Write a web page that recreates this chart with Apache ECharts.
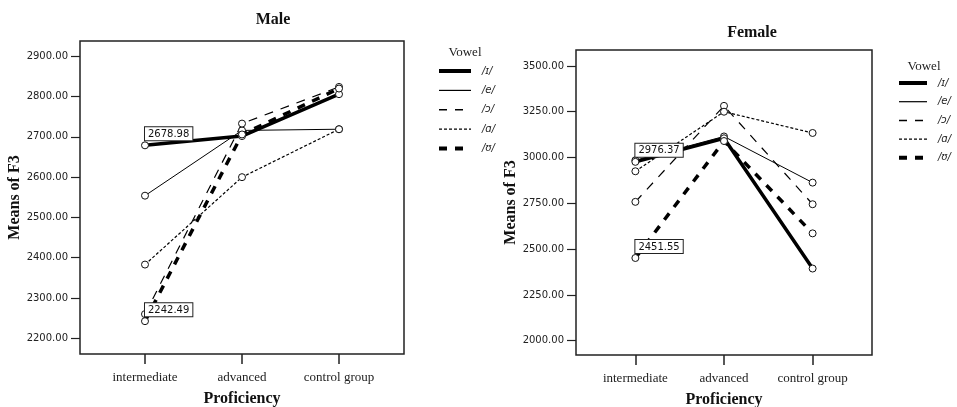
<!DOCTYPE html>
<html>
<head>
<meta charset="utf-8">
<script src="https://cdn.jsdelivr.net/npm/echarts@6/dist/echarts.min.js"></script>
<style>html,body{margin:0;padding:0;background:#fff;}#c{width:957px;height:407px;}</style>
</head>
<body>
<div id="c"></div>
<script>
// ---- data ----
const categories = ['intermediate', 'advanced', 'control group'];
const vowels = ['/ɪ/', '/e/', '/ɔ/', '/ɑ/', '/ʊ/'];

const maleI = [2678.98, 2702, 2806];
const maleE = [2554, 2716, 2719];
const maleO = [2260, 2733, 2824];
const maleA = [2383, 2600, 2719];
const maleU = [2242.49, 2706, 2820];

const femaleI = [2976.37, 3105, 2394];
const femaleE = [2985, 3115, 2863];
const femaleO = [2758, 3282, 2745];
const femaleA = [2925, 3250, 3134];
const femaleU = [2451.55, 3090, 2586];

const maleTicks = [2200, 2300, 2400, 2500, 2600, 2700, 2800, 2900];
const femaleTicks = [2000, 2250, 2500, 2750, 3000, 3250, 3500];

// labelled points: [series vowel index, category index]
const maleLabels = [[0, 0], [4, 0]];
const femaleLabels = [[0, 0], [4, 0]];

// ---- styles ----
const lineStyles = [
  { width: 3.5, type: 'solid' },
  { width: 1, type: 'solid' },
  { width: 1.2, type: [9, 8] },
  { width: 1.2, type: [3, 2] },
  { width: 3.5, type: [8, 8] }
];
const legendLineStyles = [
  { width: 4, type: 'solid' },
  { width: 1.2, type: 'solid' },
  { width: 1.5, type: [8, 8] },
  { width: 1.2, type: [3, 2] },
  { width: 4, type: [8, 8] }
];

const serif = '"Liberation Serif", "DejaVu Serif", serif';
const sans = '"DejaVu Sans", sans-serif';

function makeSeries(valsList, labels, gridIdx) {
  return valsList.map((vals, si) => ({
    name: vowels[si],
    type: 'line',
    xAxisIndex: gridIdx,
    yAxisIndex: gridIdx,
    symbol: 'circle',
    symbolSize: 7,
    z: 2 + (si === 0 || si === 4 ? 1 : 0),
    lineStyle: Object.assign({ color: '#000' }, lineStyles[si]),
    itemStyle: { color: '#fff', borderColor: '#111', borderWidth: 1 },
    emphasis: { disabled: true },
    animation: false,
    data: vals.map((v, ci) => {
      const labelled = labels.some(l => l[0] === si && l[1] === ci);
      const item = { value: [ci, v] };
      if (labelled) {
        item.label = {
          show: true,
          position: [4, -1],
          align: 'left',
          verticalAlign: 'bottom',
          formatter: () => v.toFixed(2),
          fontFamily: sans,
          fontSize: 10,
          color: '#111',
          backgroundColor: '#fff',
          borderColor: '#222',
          borderWidth: 1,
          padding: [2, 3, 1, 3]
        };
      }
      return item;
    })
  }));
}

function xAxis(gridIdx) {
  return {
    gridIndex: gridIdx,
    type: 'value',
    min: -0.67,
    max: 2.67,
    name: 'Proficiency',
    nameLocation: 'middle',
    nameGap: 37,
    nameTextStyle: { fontFamily: serif, fontWeight: 'bold', fontSize: 16, color: '#111' },
    axisLine: { show: false, onZero: false },
    splitLine: { show: false },
    axisTick: { show: true, customValues: [0, 1, 2], length: 10, lineStyle: { color: '#222', width: 1.5 } },
    axisLabel: {
      customValues: [0, 1, 2],
      formatter: v => categories[Math.round(v)],
      fontFamily: serif,
      fontSize: 13,
      color: '#222',
      margin: 17
    }
  };
}

function yAxis(gridIdx, min, max, ticks, gap) {
  return {
    gridIndex: gridIdx,
    type: 'value',
    min: min,
    max: max,
    name: 'Means of F3',
    nameLocation: 'middle',
    nameGap: gap,
    nameTextStyle: { fontFamily: serif, fontWeight: 'bold', fontSize: 16, color: '#111' },
    axisLine: { show: false, onZero: false },
    splitLine: { show: false },
    axisTick: { show: true, customValues: ticks, length: 9, lineStyle: { color: '#222', width: 1.2 } },
    axisLabel: {
      customValues: ticks,
      formatter: v => v.toFixed(2),
      fontFamily: sans,
      fontSize: 10,
      color: '#222',
      margin: 12
    }
  };
}

function legend(left, top, itemWidth, gap) {
  return {
    data: vowels.map((n, i) => ({ name: n, lineStyle: Object.assign({ color: '#000' }, legendLineStyles[i]) })),
    orient: 'vertical',
    left: left,
    top: top,
    padding: 0,
    itemWidth: itemWidth,
    itemHeight: 10,
    itemGap: gap,
    selectedMode: false,
    itemStyle: { opacity: 0 },
    textStyle: { fontFamily: sans, fontSize: 10, fontStyle: 'italic', color: '#222', padding: [0, 0, 0, 6] }
  };
}

const chart = echarts.init(document.getElementById('c'), null, { renderer: 'canvas' });
chart.setOption({
  backgroundColor: '#fff',
  animation: false,
  title: [
    { text: 'Male', left: 268, top: 7, textAlign: 'center', textStyle: { fontFamily: serif, fontWeight: 'bold', fontSize: 16, color: '#111' } },
    { text: 'Female', left: 747, top: 20, textAlign: 'center', textStyle: { fontFamily: serif, fontWeight: 'bold', fontSize: 16, color: '#111' } },
    { text: 'Vowel', left: 460, top: 41, textAlign: 'center', textStyle: { fontFamily: serif, fontWeight: 'normal', fontSize: 13, color: '#222' } },
    { text: 'Vowel', left: 919, top: 55, textAlign: 'center', textStyle: { fontFamily: serif, fontWeight: 'normal', fontSize: 13, color: '#222' } }
  ],
  legend: [
    legend(437, 66, 32, 9.4),
    legend(897, 78, 28, 8.7)
  ],
  grid: [
    { left: 80, top: 41, width: 324, height: 313, show: true, borderColor: '#222', borderWidth: 1.5, backgroundColor: 'transparent', outerBoundsMode: 'none', containLabel: false },
    { left: 576, top: 50, width: 296, height: 305, show: true, borderColor: '#222', borderWidth: 1.5, backgroundColor: 'transparent', outerBoundsMode: 'none', containLabel: false }
  ],
  xAxis: [xAxis(0), xAxis(1)],
  yAxis: [
    yAxis(0, 2161, 2938, maleTicks, 51),
    yAxis(1, 1922, 3587, femaleTicks, 47)
  ],
  series: [].concat(
    makeSeries([maleI, maleE, maleO, maleA, maleU], maleLabels, 0),
    makeSeries([femaleI, femaleE, femaleO, femaleA, femaleU], femaleLabels, 1)
  )
});
</script>
</body>
</html>
